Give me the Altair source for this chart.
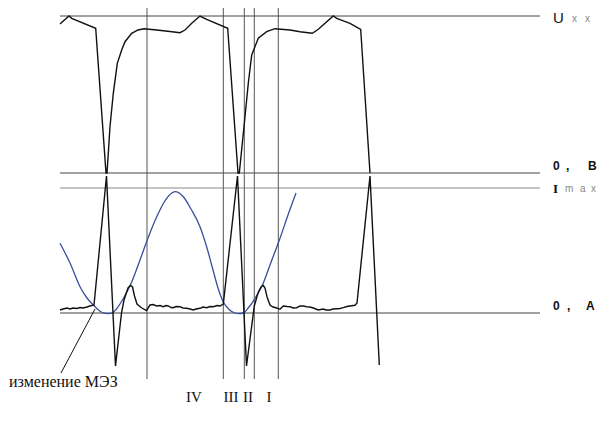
import altair as alt
import pandas as pd

# ---- data (time axis t, level y in picture units) ----
# Voltage (upper black trace)
volt = [(60, 24), (69, 16), (71.7, 18.3), (95.7, 28.3), (106, 173), (107, 173),
        (110, 126.7), (113.3, 93.3), (117.3, 63.3), (121.7, 50), (125, 41.7),
        (131.7, 33.3), (138, 30), (144, 28.7), (156.7, 30), (170, 31.5),
        (180, 32.7), (185, 30), (192, 23), (200, 16), (206.7, 19.3),
        (227.7, 28.3), (238, 173), (239.3, 173), (245, 116.7), (248.3, 83.3),
        (251.7, 55), (258.3, 38.3), (266.7, 31.7), (275, 28.7), (290, 30),
        (300, 31.7), (312.3, 33.3), (318.3, 29.3), (333.3, 16), (336.7, 18.3),
        (350, 23.3), (360.7, 29.3), (370, 173)]

# Current (lower black trace)
current = [(60, 310), (63, 309), (67, 308), (70, 309), (73, 308), (77, 308.5),
           (80, 307.5), (83, 308), (87, 307), (90, 306), (94, 305), (106.5, 176),
           (115.5, 366), (121.5, 313), (124, 300), (128, 288), (130.5, 285.5),
           (132.5, 287), (134.5, 296), (137, 304), (141, 307.5), (146.5, 310.5),
           (150, 305), (153, 304.5), (156.7, 306), (160, 305.5), (163.3, 306.7),
           (166, 305.5), (168.3, 306), (171, 307.5), (173.3, 307.7), (176, 306.5),
           (180, 306.7), (183, 308), (186.7, 308.3), (190, 309), (193.3, 310),
           (196, 309), (200, 308.3), (203, 307), (206.7, 307.7), (210, 306.5),
           (213.3, 306.7), (217, 305.5), (220, 306), (223.3, 304), (237.5, 176),
           (246.5, 366), (254.3, 306), (258, 293), (261, 287), (263.3, 285.5),
           (265, 288), (267, 296.7), (270, 305), (273, 307), (276.7, 308),
           (280, 309.3), (283.3, 306), (287, 306.5), (290, 306.7), (293, 308),
           (296.7, 307.7), (300, 306), (303.3, 306), (306.7, 306.7), (310, 307),
           (313.3, 308), (318.3, 310), (323.3, 309), (326, 310), (330, 310),
           (333, 309), (336.7, 308.7), (340, 308.5), (343.3, 307.7), (347, 306.5),
           (350, 306), (355, 305.3), (357, 303), (370, 176), (379.3, 365)]

# Sinusoidal current (blue)
sine_current = [(60, 243.3), (70, 263), (80, 286.7), (87, 298), (93.3, 305),
                (100, 311.3), (104, 313.2), (108, 313.6), (112, 313.2),
                (116, 309.5), (123.3, 298.5), (131.7, 282), (140, 260),
                (148, 238), (156.7, 216.7), (166.7, 198.3), (175, 191.7),
                (183.3, 196.7), (191, 209), (200, 226.7), (207, 248), (213, 270),
                (218, 288), (223.3, 302), (229, 309.5), (235, 313), (239, 313.6),
                (243.3, 313), (249, 307), (255, 298.3), (263.3, 283), (270, 265),
                (280, 238.3), (288, 215), (296, 193)]

# Reference levels: U_xx, 0 V, I_max, 0 A
levels = [16, 173, 188, 313]
level_colors = ["#444444", "#444444", "#888888", "#444444"]
level_span = (60, 540)

# Interval boundaries (vertical lines)
marks_t = [147, 223.3, 244.3, 254.3, 278.3]
marks_span = (0, 379)

roman = [("IV", 194), ("III", 231), ("II", 248), ("I", 269)]

# ---- frames ----
df_v = pd.DataFrame(volt, columns=["t", "y"])
df_c = pd.DataFrame(current, columns=["t", "y"])
df_s = pd.DataFrame(sine_current, columns=["t", "y"])
df_h = pd.DataFrame({"y": levels, "x1": level_span[0], "x2": level_span[1],
                     "c": level_colors})
df_vl = pd.DataFrame({"t": marks_t, "y1": marks_span[0], "y2": marks_span[1]})
df_r = pd.DataFrame(roman, columns=["text", "t"])
df_r["y"] = 402

xs = alt.Scale(domain=[8, 600], nice=False, zero=False)
ys = alt.Scale(domain=[8, 416], reverse=True, nice=False, zero=False)


def X(f):
    return alt.X(f, type="quantitative", scale=xs, axis=None)


def Y(f):
    return alt.Y(f, type="quantitative", scale=ys, axis=None)


hl = alt.Chart(df_h).mark_rule(strokeWidth=1).encode(
    x=X("x1"), x2="x2", y=Y("y"), color=alt.Color("c:N", scale=None))
vl = alt.Chart(df_vl).mark_rule(strokeWidth=1, color="#555555").encode(
    x=X("t"), y=Y("y1"), y2="y2")

blue = alt.Chart(df_s).mark_line(color="#3a4d9c", strokeWidth=1.3,
                                 interpolate="monotone").encode(
    x=X("t"), y=Y("y"), order="t:Q")
vline = alt.Chart(df_v).mark_line(color="#111111", strokeWidth=1.4).encode(
    x=X("t"), y=Y("y"), order="t:Q")
cline = alt.Chart(df_c).mark_line(color="#111111", strokeWidth=1.4).encode(
    x=X("t"), y=Y("y"), order="t:Q")

df_ann = pd.DataFrame({"t": [95, 61], "y": [309, 373]})
ann = alt.Chart(df_ann).mark_line(color="#111111", strokeWidth=1).encode(
    x=X("t"), y=Y("y"))

ann_text = alt.Chart(pd.DataFrame({"t": [9], "y": [387],
                                   "text": ["изменение МЭЗ"]})).mark_text(
    font="Liberation Serif, Times New Roman, serif", fontSize=16, align="left",
    baseline="alphabetic", color="#111111").encode(x=X("t"), y=Y("y"), text="text:N")

rom = alt.Chart(df_r).mark_text(
    font="Liberation Serif, Times New Roman, serif", fontSize=15, align="center",
    baseline="alphabetic", color="#111111").encode(x=X("t"), y=Y("y"), text="text:N")

# right-hand labels, split in pieces (big part, small part)
big_lab = pd.DataFrame({
    "t": [553, 553, 566, 588, 553, 567, 586],
    "y": [23, 170, 170, 170, 310, 310, 310],
    "text": ["U", "0", ",", "B", "0", ",", "A"],
})
small_lab = pd.DataFrame({
    "t": [572, 585, 565, 580, 591],
    "y": [22, 22, 192, 192, 192],
    "text": ["x", "x", "m", "a", "x"],
})
u_lab = alt.Chart(big_lab.iloc[:1]).mark_text(
    font="Liberation Sans", fontSize=15, align="left", baseline="alphabetic",
    color="#111111").encode(x=X("t"), y=Y("y"), text="text:N")
zero_lab = alt.Chart(big_lab.iloc[1:]).mark_text(
    font="Liberation Sans", fontSize=12, fontWeight="bold", align="left",
    baseline="alphabetic", color="#111111").encode(x=X("t"), y=Y("y"), text="text:N")
i_lab = alt.Chart(pd.DataFrame({"t": [553], "y": [193], "text": ["I"]})).mark_text(
    font="Liberation Serif", fontSize=13, fontWeight="bold", align="left",
    baseline="alphabetic", color="#111111").encode(x=X("t"), y=Y("y"), text="text:N")
sm_lab = alt.Chart(small_lab).mark_text(
    font="Liberation Sans", fontSize=10, align="left", baseline="alphabetic",
    color="#888888").encode(x=X("t"), y=Y("y"), text="text:N")

chart = alt.layer(hl, vl, blue, vline, cline, ann, ann_text, rom,
                  u_lab, zero_lab, i_lab, sm_lab).properties(
    width=592, height=408, padding=0, background="white",
    autosize=alt.AutoSizeParams(type="none")
).configure_view(stroke=None)

chart.save("out.html", embed_options={"renderer": "svg", "actions": False})
